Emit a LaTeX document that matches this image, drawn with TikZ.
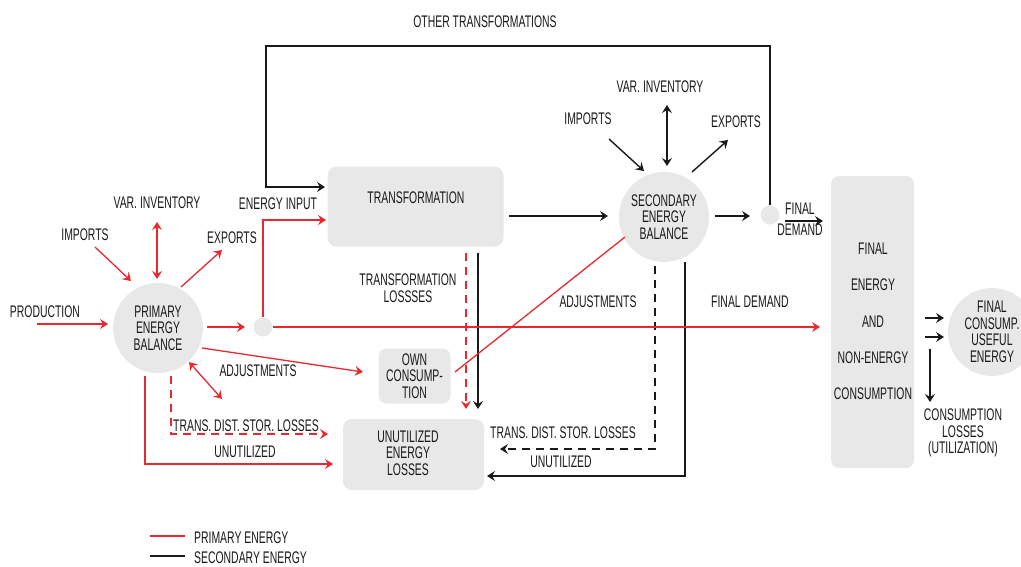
\documentclass[tikz,border=0pt]{standalone}
\usepackage{fontspec}
\setmainfont{Liberation Sans}[FakeStretch=0.62]
\usetikzlibrary{arrows.meta}
\definecolor{pred}{RGB}{232,40,46}
\definecolor{boxgray}{RGB}{232,232,232}
\definecolor{ink}{RGB}{25,25,25}

\begin{document}
\begin{tikzpicture}[x=1pt,y=-1pt,
  txt/.style={font=\fontsize{16.8}{16.5}\selectfont, text=ink, inner sep=0pt, align=center},
  tip/.style={-{Stealth[length=8pt,width=10pt,inset=3pt]}},
  both/.style={{Stealth[length=8pt,width=10pt,inset=3pt]}-{Stealth[length=8pt,width=10pt,inset=3pt]}},
  pline/.style={draw=pred, line width=1.3pt},
  sline/.style={draw=ink, line width=1.4pt},
  dashline/.style={dash pattern=on 8pt off 6pt},
  ball/.style={circle, fill=boxgray, inner sep=0pt, minimum size=90pt, txt},
  dot/.style={circle, fill=boxgray, minimum size=19pt, inner sep=0pt},
  panel/.style={fill=boxgray, rounded corners=9pt, inner sep=0pt}
]
\useasboundingbox (0,0) rectangle (1021,566);
\clip (0,0) rectangle (1021,566);

% ---------- balances, boxes and junctions ----------
\node[ball] (pb) at (158,328) {PRIMARY\\ENERGY\\BALANCE};
\node[ball] (sb) at (664,217) {SECONDARY\\ENERGY\\BALANCE};
\node[ball, minimum size=88pt] (fc) at (992,332) {FINAL\\CONSUMP.\\USEFUL\\ENERGY};
\node[dot] (j1) at (263,327) {};
\node[dot] (j2) at (770,215) {};

\node[panel, minimum width=176pt, minimum height=80pt] (tr) at (415.5,206.5) {};
\node[txt] (trl) at (416,198) {TRANSFORMATION};

\node[panel, txt, rounded corners=8pt, minimum width=72pt, minimum height=55pt] (own) at (414.5,376) {OWN\\CONSUMP-\\TION};

\node[panel, minimum width=141pt, minimum height=71pt] (ul) at (413.5,454.5) {};
\node[txt] (ull) at (408,453) {UNUTILIZED\\ENERGY\\LOSSES};

\node[panel, rounded corners=8pt, minimum width=83pt, minimum height=292pt] (fe) at (872.5,322) {};
\node[txt] (fel) at (873,321.5) {FINAL\\[19.8pt]ENERGY\\[19.8pt]AND\\[19.8pt]NON-ENERGY\\[19.8pt]CONSUMPTION};

% ---------- labels ----------
\node[txt] (lprod) at (45,312) {PRODUCTION};
\node[txt] (limp1) at (85,235) {IMPORTS};
\node[txt] (linv1) at (157,203) {VAR. INVENTORY};
\node[txt] (lexp1) at (232,238) {EXPORTS};
\node[txt] (lein) at (278,204) {ENERGY INPUT};
\node[txt] (loth) at (485,22) {OTHER TRANSFORMATIONS};
\node[txt] (ltrl) at (408,288) {TRANSFORMATION\\LOSSSES};
\node[txt] (limp2) at (588,119) {IMPORTS};
\node[txt] (linv2) at (660,87) {VAR. INVENTORY};
\node[txt] (lexp2) at (736,122) {EXPORTS};
\node[txt] (lfd1) at (800,219.5) {FINAL\\[4.5pt]DEMAND};
\node[txt] (ladj2) at (598,302) {ADJUSTMENTS};
\node[txt] (lfd2) at (750,302) {FINAL DEMAND};
\node[txt] (lcl) at (963,433) {CONSUMPTION\\LOSSES\\(UTILIZATION)};
\node[txt] (ladj1) at (258,371) {ADJUSTMENTS};
\node[txt] (ltds1) at (246,426) {TRANS. DIST. STOR. LOSSES};
\node[txt] (lun1) at (245,452) {UNUTILIZED};
\node[txt] (ltds2) at (563,433) {TRANS. DIST. STOR. LOSSES};
\node[txt] (lun2) at (561,462) {UNUTILIZED};

% ---------- connector end points ----------
\coordinate (prodA) at (37,324);   \coordinate (prodB) at (108,324);
\coordinate (imp1A) at (95,247);   \coordinate (imp1B) at (131,281);
\coordinate (inv1A) at (157,222);  \coordinate (inv1B) at (157,279);
\coordinate (exp1A) at (181,287);  \coordinate (exp1B) at (222,250);
\coordinate (pbOut) at (207,327);  \coordinate (j1In) at (245,327);
\coordinate (trIn) at (326,220);
\coordinate (feIn) at (820,327);
\coordinate (adjA) at (202,348);   \coordinate (ownIn) at (363,372);
\coordinate (adj2A) at (189,362);  \coordinate (adj2B) at (222,399);
\coordinate (tdsA) at (171,376);   \coordinate (tdsB) at (328,434);
\coordinate (unA) at (145,376);    \coordinate (unB) at (333,464);
\coordinate (ownOut) at (455,372); \coordinate (sbAdj) at (625,237);
\coordinate (tlpA) at (466,253);   \coordinate (tlpB) at (466,409);

\coordinate (otTop) at (770,46);   \coordinate (otLeft) at (266,46);
\coordinate (trIn2) at (325,187);
\coordinate (trOut) at (509,216);  \coordinate (sbIn) at (608,216);
\coordinate (imp2A) at (609,139);  \coordinate (imp2B) at (644,171);
\coordinate (inv2A) at (667,105);  \coordinate (inv2B) at (667,166);
\coordinate (exp2A) at (692,172);  \coordinate (exp2B) at (728,140);
\coordinate (sbOut) at (715,216);  \coordinate (j2In) at (750,216);
\coordinate (fdA) at (785,221);    \coordinate (fdB) at (823,221);
\coordinate (tlsA) at (478,253);   \coordinate (tlsB) at (478,409);
\coordinate (sdA) at (655,266);    \coordinate (sdB) at (500,449);
\coordinate (ssA) at (685,262);    \coordinate (ssB) at (487,476);
\coordinate (fc1A) at (925,318);   \coordinate (fc1B) at (944,318);
\coordinate (fc2A) at (925,337);   \coordinate (fc2B) at (944,337);
\coordinate (clA) at (930,349);    \coordinate (clB) at (930,402);

% ---------- secondary energy flows (black) ----------
\draw[sline,tip] (j2.north) -- (otTop) -- (otLeft) |- (trIn2);
\draw[sline,tip] (trOut) -- (sbIn);
\draw[sline,tip] (imp2A) -- (imp2B);
\draw[sline,both] (inv2A) -- (inv2B);
\draw[sline,tip] (exp2A) -- (exp2B);
\draw[sline,tip] (sbOut) -- (j2In);
\draw[sline,tip] (fdA) -- (fdB);
\draw[sline,tip] (tlsA) -- (tlsB);
\draw[sline,tip,dashline] (sdA) |- (sdB);
\draw[sline,tip] (ssA) |- (ssB);
\draw[sline,tip] (fc1A) -- (fc1B);
\draw[sline,tip] (fc2A) -- (fc2B);
\draw[sline,tip] (clA) -- (clB);

% ---------- primary energy flows (red) ----------
\draw[pline,tip] (prodA) -- (prodB);
\draw[pline,tip] (imp1A) -- (imp1B);
\draw[pline,both] (inv1A) -- (inv1B);
\draw[pline,tip] (exp1A) -- (exp1B);
\draw[pline,tip] (pbOut) -- (j1In);
\draw[pline,tip] (j1.north) |- (trIn);
\draw[pline,tip] (j1.east) -- (feIn);
\draw[pline,tip] (adjA) -- (ownIn);
\draw[pline,both] (adj2A) -- (adj2B);
\draw[pline,tip,dashline] (tdsA) |- (tdsB);
\draw[pline,tip] (unA) |- (unB);
\draw[pline] (ownOut) -- (sbAdj);
\draw[pline,tip,dashline] (tlpA) -- (tlpB);

% ---------- legend ----------
\coordinate (lg1A) at (150,536); \coordinate (lg1B) at (185,536);
\coordinate (lg2A) at (150,556); \coordinate (lg2B) at (185,556);
\draw[pline] (lg1A) -- (lg1B);
\draw[sline] (lg2A) -- (lg2B);
\node[txt, anchor=west] (lgp) at (194,538) {PRIMARY ENERGY};
\node[txt, anchor=west] (lgs) at (194,558) {SECONDARY ENERGY};
\end{tikzpicture}
\end{document}
